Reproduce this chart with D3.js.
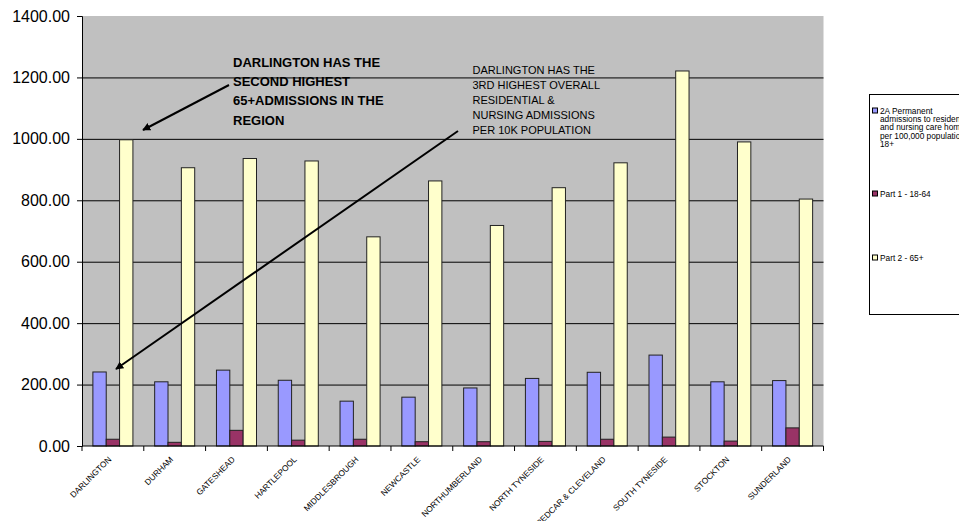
<!DOCTYPE html>
<html><head><meta charset="utf-8">
<script src="https://cdn.jsdelivr.net/npm/d3@7"></script>
<style>body{margin:0;background:#fff;} svg{display:block;font-family:"Liberation Sans",Arial,sans-serif;}</style>
</head><body>
<svg id="c" width="959" height="521"></svg>
<script>
const categories = ["DARLINGTON","DURHAM","GATESHEAD","HARTLEPOOL","MIDDLESBROUGH","NEWCASTLE","NORTHUMBERLAND","NORTH TYNESIDE","REDCAR & CLEVELAND","SOUTH TYNESIDE","STOCKTON","SUNDERLAND"];
const seriesNames = ["2A Permanent admissions to residential and nursing care homes per 100,000 population 18+","Part 1 - 18-64","Part 2 - 65+"];
const total18 = [241,209,247,214,146,159,189,220,240,296,209,213];
const part1 = [22,12,51,19,22,14,14,15,22,29,16,59];
const part2 = [997,906,936,928,681,863,718,841,922,1221,990,804];
const yTicks = [0,200,400,600,800,1000,1200,1400];
const colors = ["#9999FF","#993366","#FFFFCC"];

const svg = d3.select("#c");
const L=82, R=823.5, T=16, B=446;
const y = d3.scaleLinear().domain([0,1400]).range([B,T]);
const x0 = d3.scaleBand().domain(categories).range([L,R]).paddingInner(0.352).paddingOuter(0.176);
const x1 = d3.scaleBand().domain([0,1,2]).range([0,x0.bandwidth()]);
const series=[total18,part1,part2];

svg.append("rect").attr("x",L).attr("y",T).attr("width",R-L).attr("height",B-T).attr("fill","#C0C0C0");
svg.append("g").selectAll("line").data(yTicks.filter(d=>d>0 && d<1400)).join("line")
  .attr("x1",L).attr("x2",R).attr("y1",d=>y(d)+0.5).attr("y2",d=>y(d)+0.5).attr("stroke","#000").attr("stroke-width",1);

const g = svg.append("g");
categories.forEach((c,i)=>{
  series.forEach((s,k)=>{
    g.append("rect").attr("x",x0(c)+x1(k)).attr("y",y(s[i])).attr("width",x1.bandwidth()).attr("height",B-y(s[i]))
      .attr("fill",colors[k]).attr("stroke","#222").attr("stroke-width",1);
  });
});

// y axis
const ya = svg.append("g").attr("transform",`translate(${L},0)`)
  .call(d3.axisLeft(y).tickValues(yTicks).tickFormat(d3.format(".2f")).tickSize(5).tickPadding(7));
ya.select(".domain").attr("stroke","#000");
ya.selectAll("text").attr("font-size","16px").attr("fill","#000").attr("font-family","Liberation Sans, Arial");

// x axis
const xa = svg.append("g").attr("transform",`translate(0,${B})`);
xa.append("line").attr("x1",L).attr("x2",R).attr("stroke","#000");
const step = x0.step();
xa.selectAll("line.t").data(d3.range(categories.length+1)).join("line").attr("class","t")
  .attr("x1",i=>L+i*step).attr("x2",i=>L+i*step).attr("y1",0).attr("y2",5).attr("stroke","#000");
xa.selectAll("text").data(categories).join("text")
  .attr("transform",d=>`translate(${x0(d)+x0.bandwidth()/2-1},${14}) rotate(-45)`)
  .attr("text-anchor","end").attr("font-size","8.3px").attr("fill","#000").text(d=>d);

// annotations
const defs = svg.append("defs");
defs.append("marker").attr("id","ah").attr("viewBox","0 0 10 10").attr("refX",9).attr("refY",5)
  .attr("markerWidth",4).attr("markerHeight",4).attr("orient","auto")
  .append("path").attr("d","M0,0 L10,5 L0,10 z").attr("fill","#000");
svg.append("line").attr("x1",229).attr("y1",85).attr("x2",143).attr("y2",130).attr("stroke","#000").attr("stroke-width",2).attr("marker-end","url(#ah)");
svg.append("line").attr("x1",458).attr("y1",131).attr("x2",116).attr("y2",369).attr("stroke","#000").attr("stroke-width",2).attr("marker-end","url(#ah)");

const a1 = ["DARLINGTON HAS THE","SECOND HIGHEST","65+ADMISSIONS IN THE","REGION"];
svg.append("g").selectAll("text").data(a1).join("text").attr("x",233).attr("y",(d,i)=>67+i*19.2)
  .attr("font-size","13px").attr("font-weight","bold").attr("fill","#000").text(d=>d);
const a2 = ["DARLINGTON HAS THE","3RD HIGHEST OVERALL","RESIDENTIAL &","NURSING ADMISSIONS","PER 10K POPULATION"];
svg.append("g").selectAll("text").data(a2).join("text").attr("x",472.5).attr("y",(d,i)=>74+i*15)
  .attr("font-size","11px").attr("fill","#000").text(d=>d);

// legend
svg.append("rect").attr("x",869.5).attr("y",94.5).attr("width",120).attr("height",220).attr("fill","#fff").attr("stroke","#000");
const legLines = [["2A Permanent","admissions to residential","and nursing care homes","per 100,000 population","18+"],["Part 1 - 18-64"],["Part 2 - 65+"]];
const legY=[111,194,258];
legLines.forEach((lines,k)=>{
  svg.append("rect").attr("x",872.5).attr("y",legY[k]-3).attr("width",5).attr("height",5).attr("fill",colors[k]).attr("stroke","#000");
  lines.forEach((t,j)=>svg.append("text").attr("x",880).attr("y",legY[k]+3+j*8.2).attr("font-size","8.3px").attr("fill","#000").text(t));
});
</script>
</body></html>
